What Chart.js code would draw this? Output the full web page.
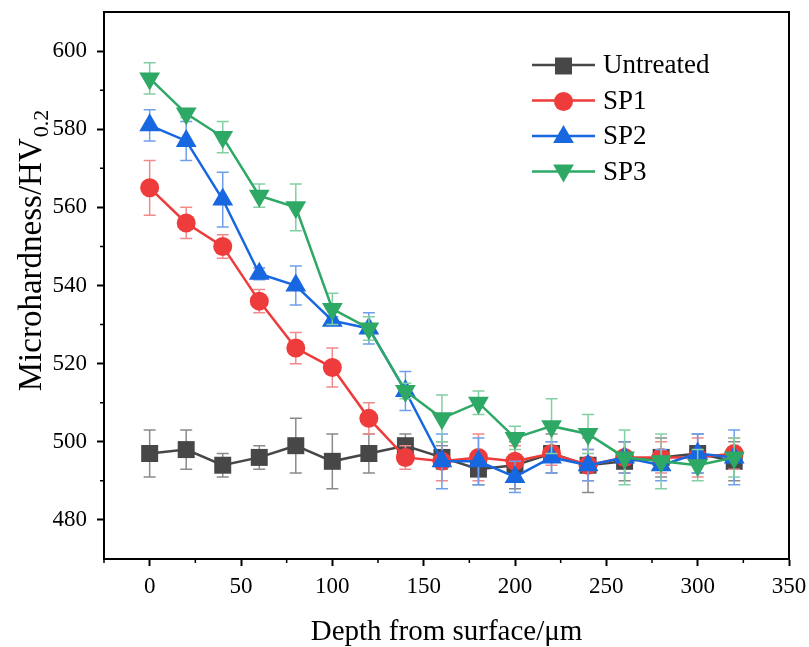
<!DOCTYPE html>
<html>
<head>
<meta charset="utf-8">
<script src="https://cdn.jsdelivr.net/npm/chart.js@4"></script>
<style>
  html, body { margin:0; padding:0; background:#fff; }
  canvas { display:block; }
</style>
</head>
<body>
<canvas id="chart" width="809" height="647"></canvas>
<script>
/* Microhardness depth profiles */
const depth = [0,20,40,60,80,100,120,140,160,180,200,220,240,260,280,300,320];

const untreated    = [497,498,494,496,499,495,497,499,496,493,494,497,494,495,496,497,495];
const untreatedErr = [6,5,3,3,7,7,5,3,3,4,6,5,7,5,5,5,5];
const sp1    = [565,556,550,536,524,519,506,496,495,496,495,497,494,496,496,496,497];
const sp1Err = [7,4,3,3,4,5,4,3,5,6,4,3,4,4,4,5,4];
const sp2    = [581,577,562,543,540,531,529,513,495,495,491,496,494,496,494,497,496];
const sp2Err = [4,5,7,1.5,5,1,4,5,7,6,4,4,4,4,4,5,7];
const sp3    = [593,584,578,563,560,534,529,513,506,510,501,504,502,496,495,494,496];
const sp3Err = [4,1,4,3,6,4,3,2,6,3,3,7,5,7,7,4,5];

const seriesNames = ['Untreated','SP1','SP2','SP3'];
const xTicks = [0,50,100,150,200,250,300,350];
const xMinor = [-25,25,75,125,175,225,275,325];
const yTicks = [480,500,520,540,560,580,600];
const yMinor = [490,510,530,550,570,590];

const FONT = "'Liberation Serif','Times New Roman',serif";
const COLORS  = ['#474747','#ee3b3b','#1767e0','#2ea865'];
const ERRCOL  = ['#8a8a8a','#f28a8a','#6f9fec','#82cfa2'];
const STYLES  = [
  { style:'rect',     radius:12, rot:0 },
  { style:'circle',   radius:9.5, rot:0 },
  { style:'triangle', radius:12, rot:0 },
  { style:'triangle', radius:12, rot:180 }
];
const errors = [untreatedErr, sp1Err, sp2Err, sp3Err];
const values = [untreated, sp1, sp2, sp3];

function pts(ys) { return depth.map((x,i)=>({ x:x, y:ys[i] })); }

function marker(ctx, kind, x, y, color) {
  const r = kind.radius;
  ctx.save();
  ctx.fillStyle = color;
  ctx.translate(x, y);
  ctx.rotate(kind.rot * Math.PI / 180);
  ctx.beginPath();
  if (kind.style === 'rect') {
    const s = Math.SQRT1_2 * r;
    ctx.rect(-s, -s, 2*s, 2*s);
  } else if (kind.style === 'circle') {
    ctx.arc(0, 0, r, 0, Math.PI*2);
  } else {
    for (let k=0;k<3;k++) {
      const a = -Math.PI/2 + k*2*Math.PI/3;
      const px = r*Math.cos(a), py = r*Math.sin(a);
      k ? ctx.lineTo(px,py) : ctx.moveTo(px,py);
    }
    ctx.closePath();
  }
  ctx.fill();
  ctx.restore();
}

/* error bars, drawn just before each series so its own markers cover them */
const errorBars = {
  id:'errorBars',
  beforeDatasetDraw(chart, args) {
    const i = args.index;
    const ys = chart.scales.y, ctx = chart.ctx;
    const meta = chart.getDatasetMeta(i);
    ctx.save();
    ctx.strokeStyle = ERRCOL[i];
    ctx.lineWidth = 1.5;
    meta.data.forEach((p, j) => {
      const top = ys.getPixelForValue(values[i][j] + errors[i][j]);
      const bot = ys.getPixelForValue(values[i][j] - errors[i][j]);
      ctx.beginPath();
      ctx.moveTo(p.x, top); ctx.lineTo(p.x, bot);
      ctx.moveTo(p.x-6, top); ctx.lineTo(p.x+6, top);
      ctx.moveTo(p.x-6, bot); ctx.lineTo(p.x+6, bot);
      ctx.stroke();
    });
    ctx.restore();
  }
};

/* frame, minor ticks, axis titles, legend */
const decor = {
  id:'decor',
  afterDraw(chart) {
    const ctx = chart.ctx, a = chart.chartArea;
    const xs = chart.scales.x, ys = chart.scales.y;
    ctx.save();
    ctx.strokeStyle = '#000';
    ctx.lineWidth = 2;
    ctx.beginPath();
    ctx.moveTo(a.left, a.top); ctx.lineTo(a.right, a.top); ctx.lineTo(a.right, a.bottom);
    ctx.stroke();
    ctx.lineWidth = 1.5;
    ctx.beginPath();
    xMinor.forEach(v => { const px = xs.getPixelForValue(v); ctx.moveTo(px, a.bottom); ctx.lineTo(px, a.bottom+4); });
    yMinor.forEach(v => { const py = ys.getPixelForValue(v); ctx.moveTo(a.left, py); ctx.lineTo(a.left-4, py); });
    ctx.stroke();

    // x title
    ctx.fillStyle = '#000';
    ctx.font = '29px ' + FONT;
    ctx.textAlign = 'center';
    ctx.textBaseline = 'middle';
    ctx.fillText('Depth from surface/\u03bcm', (a.left+a.right)/2, 632);

    // y title with subscript
    ctx.save();
    ctx.translate(30, 251);
    ctx.rotate(-Math.PI/2);
    ctx.font = '33px ' + FONT;
    const main = 'Microhardness/HV';
    const wMain = ctx.measureText(main).width;
    ctx.font = '22px ' + FONT;
    const wSub = ctx.measureText('0.2').width;
    const x0 = -(wMain + wSub)/2;
    ctx.textAlign = 'left';
    ctx.textBaseline = 'alphabetic';
    ctx.font = '33px ' + FONT;
    ctx.fillText(main, x0, 11);
    ctx.font = '22px ' + FONT;
    ctx.fillText('0.2', x0 + wMain + 1, 18);
    ctx.restore();

    // legend
    ctx.font = '27px ' + FONT;
    ctx.textAlign = 'left';
    ctx.textBaseline = 'middle';
    const lx = 532, ly = 65, dy = 35.5;
    seriesNames.forEach((name, i) => {
      const y = ly + i*dy;
      ctx.strokeStyle = COLORS[i];
      ctx.lineWidth = 2.5;
      ctx.beginPath(); ctx.moveTo(lx, y); ctx.lineTo(lx+63, y); ctx.stroke();
      marker(ctx, STYLES[i], lx+31.5, y + (STYLES[i].rot ? -1 : 1), COLORS[i]);
      ctx.fillStyle = '#000';
      ctx.fillText(name, lx+71, y+1);
    });
    ctx.restore();
  }
};

const datasets = values.map((ys, i) => ({
  label: seriesNames[i],
  data: pts(ys),
  borderColor: COLORS[i],
  backgroundColor: COLORS[i],
  borderWidth: 2.5,
  pointStyle: STYLES[i].style,
  pointRotation: STYLES[i].rot,
  pointRadius: STYLES[i].radius,
  pointBorderWidth: 0,
  pointBackgroundColor: COLORS[i],
  tension: 0,
  order: 3 - i
}));

new Chart(document.getElementById('chart'), {
  type: 'line',
  data: { datasets },
  options: {
    responsive:false, animation:false, maintainAspectRatio:false,
    layout:{ padding:{ left:0, right:20, top:8, bottom:0 } },
    plugins:{ legend:{ display:false }, tooltip:{ enabled:false } },
    scales:{
      x:{
        type:'linear', min:-25, max:350,
        afterBuildTicks: s => { s.ticks = xTicks.map(v=>({ value:v })); },
        afterFit: s => { s.height = 88; s.paddingLeft = 0; s.paddingRight = 0; },
        grid:{ drawOnChartArea:false, drawTicks:true, tickLength:7, tickWidth:2, tickColor:'#000' },
        border:{ display:true, color:'#000', width:2 },
        ticks:{ color:'#000', font:{ family:FONT, size:23 }, padding:7, maxRotation:0 }
      },
      y:{
        min:470, max:610,
        afterBuildTicks: s => { s.ticks = yTicks.map(v=>({ value:v })); },
        afterFit: s => { s.width = 104; s.paddingTop = 0; s.paddingBottom = 0; },
        grid:{ drawOnChartArea:false, drawTicks:true, tickLength:7, tickWidth:2, tickColor:'#000' },
        border:{ display:true, color:'#000', width:2 },
        ticks:{ color:'#000', font:{ family:FONT, size:23 }, padding:10 }
      }
    }
  },
  plugins:[errorBars, decor]
});
</script>
</body>
</html>
